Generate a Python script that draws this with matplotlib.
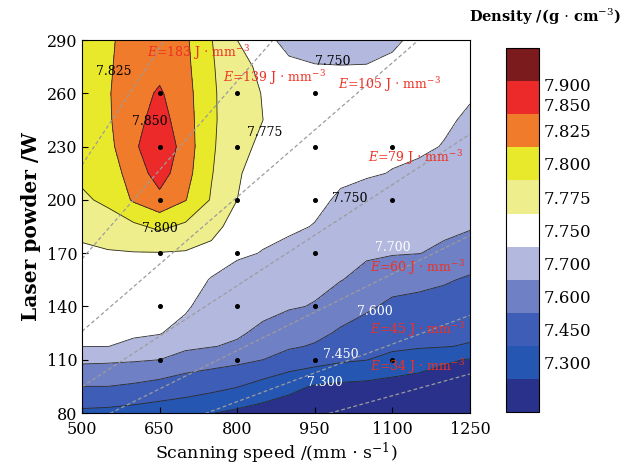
import numpy as np
import matplotlib.pyplot as plt

plt.rcParams['font.family'] = 'DejaVu Serif'
plt.rcParams['mathtext.fontset'] = 'dejavuserif'

# grid of the density map: scanning speed (mm/s) x laser power (W)
speed = [500, 550, 600, 650, 700, 750, 800, 850, 900, 950, 1000, 1050, 1100, 1150, 1200, 1250]
power = [80, 95, 110, 117.5, 125, 140, 155, 170, 185, 200, 215, 230, 245, 260, 275, 290]

# density (g/cm3) along each speed column, power going up from 80 W
d500 = [7.42, 7.60, 7.719, 7.7504, 7.753, 7.759, 7.765, 7.771, 7.781, 7.796, 7.805, 7.810, 7.814, 7.816, 7.817, 7.817]
d550 = [7.41, 7.60, 7.715, 7.7502, 7.753, 7.760, 7.766, 7.773, 7.788, 7.805, 7.812, 7.818, 7.822, 7.823, 7.822, 7.821]
d600 = [7.39, 7.586, 7.7095, 7.745, 7.753, 7.760, 7.767, 7.774, 7.795, 7.828, 7.836, 7.845, 7.842, 7.840, 7.837, 7.835]
d650 = [7.36, 7.564, 7.70, 7.7326, 7.752, 7.759, 7.767, 7.774, 7.805, 7.843, 7.861, 7.872, 7.860, 7.853, 7.843, 7.836]
d700 = [7.34, 7.529, 7.674, 7.7121, 7.735, 7.756, 7.765, 7.773, 7.795, 7.826, 7.834, 7.838, 7.836, 7.834, 7.831, 7.829]
d750 = [7.305, 7.496, 7.656, 7.7024, 7.711, 7.730, 7.748, 7.767, 7.784, 7.798, 7.8015, 7.803, 7.804, 7.804, 7.803, 7.801]
d800 = [7.27, 7.457, 7.635, 7.692, 7.707, 7.723, 7.739, 7.754, 7.764, 7.775, 7.778, 7.785, 7.786, 7.785, 7.781, 7.775]
d850 = [7.24, 7.395, 7.60, 7.644, 7.688, 7.715, 7.732, 7.749, 7.756, 7.762, 7.762, 7.768, 7.775, 7.774, 7.771, 7.765]
d900 = [7.23, 7.333, 7.546, 7.615, 7.654, 7.707, 7.725, 7.743, 7.754, 7.759, 7.763, 7.765, 7.766, 7.765, 7.760, 7.735]
d950 = [7.22, 7.29, 7.509, 7.589, 7.629, 7.696, 7.716, 7.732, 7.749, 7.755, 7.759, 7.762, 7.762, 7.760, 7.753, 7.725]
d1000 = [7.21, 7.27, 7.4725, 7.529, 7.585, 7.651, 7.7025, 7.717, 7.732, 7.747, 7.754, 7.758, 7.759, 7.758, 7.7515, 7.725]
d1050 = [7.20, 7.26, 7.453, 7.497, 7.541, 7.620, 7.678, 7.709, 7.724, 7.738, 7.753, 7.757, 7.758, 7.757, 7.752, 7.730]
d1100 = [7.19, 7.24, 7.4125, 7.474, 7.507, 7.574, 7.647, 7.705, 7.720, 7.734, 7.749, 7.755, 7.758, 7.758, 7.756, 7.745]
d1150 = [7.18, 7.23, 7.37, 7.465, 7.498, 7.563, 7.6325, 7.7015, 7.716, 7.731, 7.745, 7.754, 7.757, 7.758, 7.758, 7.757]
d1200 = [7.17, 7.22, 7.321, 7.456, 7.487, 7.549, 7.613, 7.690, 7.711, 7.724, 7.736, 7.749, 7.753, 7.756, 7.757, 7.757]
d1250 = [7.16, 7.21, 7.29, 7.439, 7.476, 7.531, 7.585, 7.665, 7.706, 7.716, 7.727, 7.737, 7.747, 7.752, 7.755, 7.756]

levels = [7.10, 7.30, 7.45, 7.60, 7.70, 7.75, 7.775, 7.80, 7.825, 7.85, 7.90, 8.00]
fill_colors = ['#29318a', '#2456b2', '#3d5db6', '#7080c4', '#b3b8df', '#ffffff',
               '#eeee8c', '#e9e92c', '#ef7b2b', '#ec2a2a', '#7b1b1d']

# sample points that were printed and measured
pts_speed = [650] * 6 + [800] * 6 + [950] * 6 + [1100] * 3
pts_power = [110, 140, 170, 200, 230, 260] * 3 + [110, 200, 230]

# volumetric energy density E = P / (v * h * t)
energy = [183, 139, 105, 79, 60, 45, 34]
hatch_layer = 0.08 * 0.03
energy_label_pos = [(626, 283), (773, 269), (995, 265), (1053, 224), (1057, 162), (1057, 127), (1057, 106)]

# contour value labels: level, speed, power, colour
contour_labels = [
    (7.825, 527, 272, 'black'),
    (7.850, 597, 244, 'black'),
    (7.775, 819, 238, 'black'),
    (7.800, 616, 184, 'black'),
    (7.750, 951, 278, 'black'),
    (7.750, 984, 201, 'black'),
    (7.700, 1067, 173, 'white'),
    (7.600, 1032, 137, 'white'),
    (7.450, 966, 113, 'white'),
    (7.300, 935, 97, 'white'),
]

density = np.column_stack([d500, d550, d600, d650, d700, d750, d800, d850, d900, d950,
                           d1000, d1050, d1100, d1150, d1200, d1250])

fig = plt.figure(figsize=(6.27, 4.68), dpi=100)
ax = fig.add_axes([0.1308, 0.1175, 0.6188, 0.797])
cax = fig.add_axes([0.807, 0.1197, 0.053, 0.7773])

cf = ax.contourf(speed, power, density, levels=levels, colors=fill_colors)
ax.contour(speed, power, density, levels=levels[1:-1], colors='#2a2a2a', linewidths=0.6)

v_line = np.array([500.0, 1250.0])
for e, (tx, ty) in zip(energy, energy_label_pos):
    ax.plot(v_line, e * hatch_layer * v_line, ls=(0, (3, 2)), color='#9c9c9c', lw=0.9)
    ax.text(tx, ty, r'$E$=%d J $\cdot$ mm$^{-3}$' % e, color='#ee3124',
            fontsize=9, va='center', ha='left')

ax.plot(pts_speed, pts_power, 'o', ms=2.6, color='black')

for lv, tx, ty, c in contour_labels:
    ax.text(tx, ty, '%.3f' % lv, color=c, fontsize=9, va='center', ha='left')

ax.set_xlim(500, 1250)
ax.set_ylim(80, 290)
ax.set_xticks(range(500, 1251, 150))
ax.set_yticks(range(80, 291, 30))
ax.tick_params(direction='in', length=4, labelsize=11.5)
ax.tick_params(axis='x', pad=6)
ax.set_xlabel(r'Scanning speed /(mm $\cdot$ s$^{-1}$)', fontsize=12.5, labelpad=2)
ax.set_ylabel('Laser powder /W', fontsize=14.5, fontweight='bold', labelpad=4)

cb = fig.colorbar(cf, cax=cax)
tick_vals = [7.375, 7.525, 7.65, 7.725, 7.7625, 7.7875, 7.8125, 7.8375, 7.8645, 7.895]
tick_text = ['7.300', '7.450', '7.600', '7.700', '7.750', '7.775', '7.800', '7.825', '7.850', '7.900']
cb.set_ticks(tick_vals)
cb.set_ticklabels(tick_text)
cb.ax.tick_params(length=0, labelsize=12, pad=3)
cb.outline.set_linewidth(0.8)

fig.text(0.99, 0.963, r'Density /(g $\cdot$ cm$^{-3}$)', fontsize=10.5, fontweight='bold',
         ha='right', va='center')

fig.savefig('out.png', dpi=100)
